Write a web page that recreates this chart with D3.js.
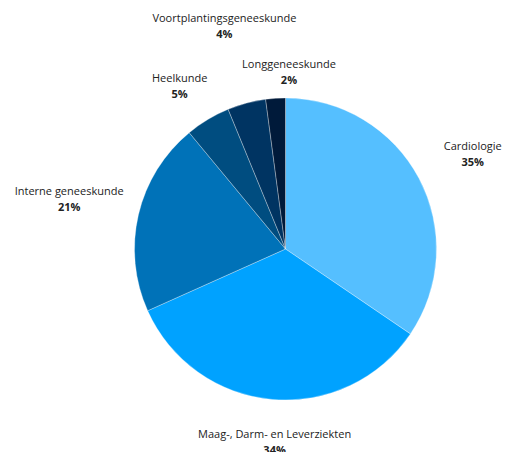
<!DOCTYPE html>
<html>
<head>
  <meta charset="utf-8">
  <title>Pie</title>
  <style type="text/css">
    body { margin: 0; background: #fff; }
    text { font-family: "Open Sans", "Noto Sans", sans-serif; fill: #222; }
    .pct { font-weight: bold; }
  </style>
</head>
<body>
  <script type="text/javascript" src="https://cdn.jsdelivr.net/npm/d3@7"></script>
  <script type="text/javascript">
    // data
    var categories = ["Cardiologie", "Maag-, Darm- en Leverziekten", "Interne geneeskunde",
                      "Heelkunde", "Voortplantingsgeneeskunde", "Longgeneeskunde"];
    var values = [34.5, 33.8, 20.7, 4.8, 4.1, 2.1];
    var colors = ["#55bfff", "#00a2ff", "#0072b8", "#004d80", "#003462", "#001a3a"];
    // label placement: distance from centre and a small angle nudge (degrees)
    var labelDist = [210, 193, 222, 194, 231, 177];
    var labelNudge = [1, -1.8, -0.2, -2.1, -0.4, 4.9];

    var w = 505, h = 452;
    var cx = 285.5, cy = 249, r = 151;

    var svg = d3.select("body").append("svg")
      .attr("width", w)
      .attr("height", h);

    var g = svg.append("g").attr("transform", "translate(" + cx + "," + cy + ")");

    var pie = d3.pie().sort(null).value(function(d) { return d; });
    var arc = d3.arc().innerRadius(0).outerRadius(r);
    var arcs = pie(values);

    g.selectAll("path")
      .data(arcs)
      .enter()
      .append("path")
      .attr("d", arc)
      .attr("fill", function(d, i) { return colors[i]; })
      .attr("stroke", "#fff")
      .attr("stroke-width", 0.5)
      .attr("stroke-opacity", 0.6);

    var labels = g.selectAll("g.lbl")
      .data(arcs)
      .enter()
      .append("g")
      .attr("class", "lbl")
      .attr("transform", function(d, i) {
        var a = (d.startAngle + d.endAngle) / 2 + labelNudge[i] * Math.PI / 180;
        var x = Math.sin(a) * labelDist[i];
        var y = -Math.cos(a) * labelDist[i];
        return "translate(" + x + "," + y + ")";
      });

    labels.append("text")
      .attr("text-anchor", "middle")
      .attr("y", -4)
      .style("font-size", "11px")
      .text(function(d, i) { return categories[i]; });

    labels.append("text")
      .attr("class", "pct")
      .attr("text-anchor", "middle")
      .attr("y", 12)
      .style("font-size", "11px")
      .text(function(d) { return Math.round(d.value) + "%"; });
  </script>
</body>
</html>
